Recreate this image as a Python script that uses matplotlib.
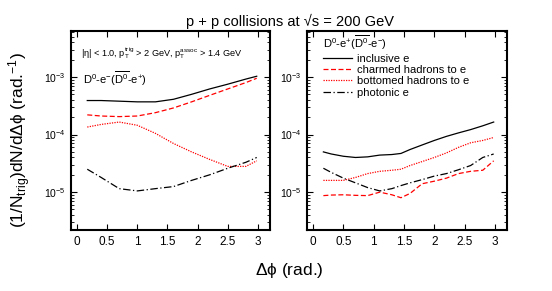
import numpy as np
import matplotlib
matplotlib.use("Agg")
import matplotlib.pyplot as plt

plt.rcParams['font.family'] = ['Liberation Sans', 'DejaVu Sans']
plt.rcParams['mathtext.fontset'] = 'custom'
plt.rcParams['mathtext.rm'] = 'Liberation Sans'
plt.rcParams['mathtext.it'] = 'Liberation Sans:italic'
plt.rcParams['mathtext.default'] = 'regular'

# left panel: D0-e- (D0bar-e+)
x_left = [0.17, 0.4, 0.7, 1.0, 1.3, 1.6, 1.9, 2.2, 2.5, 2.8, 2.98]
incl_left = [3.9e-4, 3.9e-4, 3.8e-4, 3.7e-4, 3.7e-4, 4.1e-4, 5.0e-4, 6.2e-4, 7.5e-4, 9.2e-4, 1.03e-3]
charm_left = [2.2e-4, 2.1e-4, 2.05e-4, 2.1e-4, 2.4e-4, 2.9e-4, 3.7e-4, 4.8e-4, 6.2e-4, 8.0e-4, 9.5e-4]
bottom_left = [1.35e-4, 1.5e-4, 1.65e-4, 1.45e-4, 1.05e-4, 7.0e-5, 5.0e-5, 3.7e-5, 2.8e-5, 2.8e-5, 3.5e-5]
phot_left = [2.5e-5, 1.8e-5, 1.15e-5, 1.05e-5, 1.15e-5, 1.25e-5, 1.6e-5, 2.0e-5, 2.6e-5, 3.3e-5, 4.0e-5]

# right panel: D0-e+ (D0bar-e-)
x_right = [0.17, 0.3, 0.5, 0.7, 0.9, 1.1, 1.3, 1.45, 1.6, 1.8, 2.0, 2.2, 2.4, 2.6, 2.8, 2.98]
incl_right = [5.0e-5, 4.6e-5, 4.2e-5, 4.0e-5, 4.1e-5, 4.4e-5, 4.5e-5, 4.7e-5, 5.5e-5, 6.6e-5, 7.9e-5, 9.3e-5, 1.07e-4, 1.22e-4, 1.42e-4, 1.65e-4]
charm_right = [8.7e-6, 8.9e-6, 9.0e-6, 8.8e-6, 8.7e-6, 1.0e-5, 9.0e-6, 8.0e-6, 9.5e-6, 1.4e-5, 1.55e-5, 1.75e-5, 2.1e-5, 2.3e-5, 2.4e-5, 3.5e-5]
bottom_right = [1.6e-5, 1.6e-5, 1.6e-5, 1.8e-5, 2.1e-5, 2.3e-5, 2.4e-5, 2.5e-5, 2.9e-5, 3.4e-5, 4.0e-5, 4.8e-5, 6.0e-5, 7.2e-5, 7.9e-5, 8.9e-5]
phot_right = [2.6e-5, 2.2e-5, 1.75e-5, 1.45e-5, 1.2e-5, 1.05e-5, 1.15e-5, 1.3e-5, 1.45e-5, 1.65e-5, 1.9e-5, 2.1e-5, 2.45e-5, 2.9e-5, 4.0e-5, 4.6e-5]

labels = ["inclusive e", "charmed hadrons to e", "bottomed hadrons to e", "photonic e"]
styles = [("black", "-"), ("red", (0, (4, 2))), ("red", (0, (1, 1))), ("black", (0, (6, 2, 1, 2)))]
xticks = [0, 0.5, 1, 1.5, 2, 2.5, 3]

fig = plt.figure(figsize=(5.52, 2.91), dpi=100)
ax1 = fig.add_axes([0.1286, 0.2096, 0.3605, 0.684])
ax2 = fig.add_axes([0.5562, 0.2096, 0.3623, 0.684])

for ax, x, series in [(ax1, x_left, [incl_left, charm_left, bottom_left, phot_left]),
                      (ax2, x_right, [incl_right, charm_right, bottom_right, phot_right])]:
    for y, (c, ls), lab in zip(series, styles, labels):
        ax.plot(x, y, color=c, linestyle=ls, lw=0.9, label=lab)
    ax.set_yscale('log')
    ax.set_ylim(2.2e-6, 6.3e-3)
    ax.set_xlim(-0.1, 3.2)
    ax.set_xticks(xticks)
    ax.set_xticklabels(["0", "0.5", "1", "1.5", "2", "2.5", "3"])
    ax.tick_params(which='both', direction='in', top=True, right=True)
    ax.tick_params(which='major', length=4, width=0.8, labelsize=8.5, pad=4)
    ax.tick_params(axis='y', which='major', labelsize=7.5)
    ax.tick_params(which='minor', length=2, width=0.6)
    for s in ax.spines.values():
        s.set_linewidth(1.5)

ax1.text(0.05, 0.89, r'$|\eta|$ < 1.0, $p_{T}^{trig}$ > 2 GeV, $p_{T}^{assoc}$ > 1.4 GeV',
         transform=ax1.transAxes, fontsize=6.6, va='center')
ax1.text(0.06, 0.76, r'$D^{0}$-$e^{-}$($\overline{D^{0}}$-$e^{+}$)',
         transform=ax1.transAxes, fontsize=8, va='center')

leg = ax2.legend(loc='upper left', bbox_to_anchor=(0.045, 1.02), frameon=False, fontsize=8,
                 title=r'$D^{0}$-$e^{+}$($\overline{D^{0}}$-$e^{-}$)', title_fontsize=8,
                 handlelength=2.6, handletextpad=0.5, labelspacing=0.12, borderaxespad=0.2)
leg._legend_box.align = "left"

fig.text(0.525, 0.925, "p + p collisions at √s = 200 GeV", ha='center', va='center', fontsize=10.5)
fig.text(0.035, 0.52, r'(1/$N_{trig}$)dN/d$\Delta\phi$ (rad.$^{-1}$)', rotation=90,
         ha='center', va='center', fontsize=12.5)
fig.text(0.524, 0.072, r'$\Delta\phi$ (rad.)', ha='center', va='center', fontsize=12.5)

fig.savefig("out.png", dpi=100)
